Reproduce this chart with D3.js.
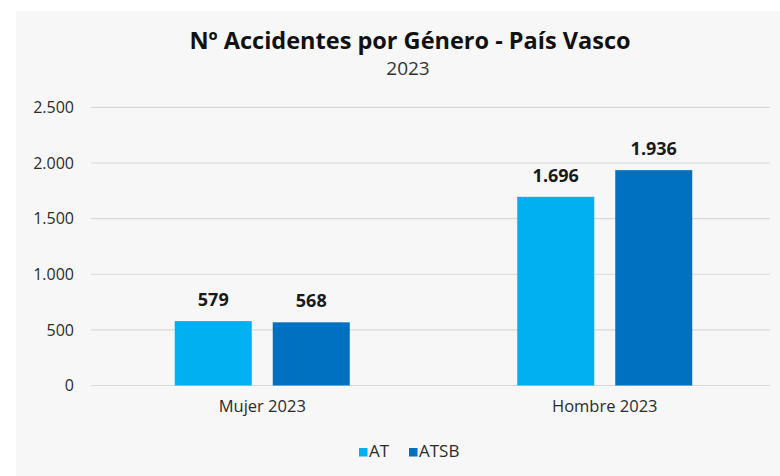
<!DOCTYPE html>
<html>
<head>
<meta charset="utf-8">
<script src="https://cdn.jsdelivr.net/npm/d3@7"></script>
<style>
  html, body { margin: 0; padding: 0; background: #ffffff; }
  svg { display: block; font-family: "Open Sans", "Noto Sans", sans-serif; }
</style>
</head>
<body>
<svg id="chart" width="780" height="476"></svg>
<script>
// Accident counts by gender, Basque Country, 2023
const categories = ["Mujer 2023", "Hombre 2023"];
const series = ["AT", "ATSB"];
const valuesAT = [579, 1696];
const valuesATSB = [568, 1936];
const yTicks = [0, 500, 1000, 1500, 2000, 2500];
const colors = { AT: "#00b0f0", ATSB: "#0070c0" };

const fmt = v => d3.format(",")(v).replace(/,/g, ".");

const svg = d3.select("#chart");

// chart panel
svg.append("rect")
  .attr("x", 16).attr("y", 11)
  .attr("width", 764).attr("height", 465)
  .attr("fill", "#f7f7f7");

// titles
svg.append("text")
  .attr("x", 410).attr("y", 49)
  .attr("text-anchor", "middle")
  .attr("font-size", 23.5).attr("font-weight", 700)
  .attr("fill", "#111")
  .text("Nº Accidentes por Género - País Vasco");
svg.append("text")
  .attr("x", 408).attr("y", 75)
  .attr("text-anchor", "middle")
  .attr("font-size", 19)
  .attr("fill", "#333")
  .text("2023");

const y = d3.scaleLinear().domain([0, 2500]).range([385.5, 107.4]);
const x0 = d3.scaleBand().domain(categories).range([91, 776]);
const x1 = d3.scaleBand().domain(series).range([-87.5, 87.5]).paddingInner(0.2143);

// gridlines
svg.append("g")
  .selectAll("line")
  .data(yTicks)
  .join("line")
  .attr("x1", 91).attr("x2", 770)
  .attr("y1", d => y(d)).attr("y2", d => y(d))
  .attr("stroke", "#d9d9d9").attr("stroke-width", 1.2);

// y axis labels
const yAxis = d3.axisLeft(y).tickValues(yTicks).tickFormat(fmt).tickSize(0).tickPadding(0);
svg.append("g")
  .attr("transform", "translate(74,0)")
  .call(yAxis)
  .call(g => g.select(".domain").remove())
  .call(g => g.selectAll("text")
    .attr("font-family", "Open Sans, sans-serif")
    .attr("font-size", 16)
    .attr("fill", "#2b2b2b"));

// x axis labels
const xAxis = d3.axisBottom(x0).tickSize(0).tickPadding(0);
svg.append("g")
  .attr("transform", "translate(0,400)")
  .call(xAxis)
  .call(g => g.select(".domain").remove())
  .call(g => g.selectAll("text")
    .attr("font-family", "Open Sans, sans-serif")
    .attr("font-size", 16.5)
    .attr("fill", "#2b2b2b"));

const rows = categories.map((c, i) => ({
  category: c,
  items: [
    { key: "AT", value: valuesAT[i] },
    { key: "ATSB", value: valuesATSB[i] }
  ]
}));

const groups = svg.append("g")
  .selectAll("g")
  .data(rows)
  .join("g")
  .attr("transform", d => `translate(${x0(d.category) + x0.bandwidth() / 2},0)`);

groups.selectAll("rect")
  .data(d => d.items)
  .join("rect")
  .attr("x", d => x1(d.key))
  .attr("width", x1.bandwidth())
  .attr("y", d => y(d.value))
  .attr("height", d => y(0) - y(d.value))
  .attr("fill", d => colors[d.key]);

groups.selectAll("text.val")
  .data(d => d.items)
  .join("text")
  .attr("class", "val")
  .attr("x", d => x1(d.key) + x1.bandwidth() / 2)
  .attr("y", d => y(d.value) - 15)
  .attr("text-anchor", "middle")
  .attr("font-size", 18).attr("font-weight", 700)
  .attr("fill", "#1a1a1a")
  .text(d => fmt(d.value));

// legend
const legend = svg.append("g").attr("transform", "translate(359,457)");
const legendItems = [{ key: "AT", dx: 0 }, { key: "ATSB", dx: 50 }];
const li = legend.selectAll("g").data(legendItems).join("g")
  .attr("transform", d => `translate(${d.dx},0)`);
li.append("rect")
  .attr("x", 0).attr("y", -9)
  .attr("width", 8.5).attr("height", 8.5)
  .attr("fill", d => colors[d.key]);
li.append("text")
  .attr("x", 10).attr("y", 0)
  .attr("font-size", 17)
  .attr("fill", "#2b2b2b")
  .text(d => d.key);
</script>
</body>
</html>
